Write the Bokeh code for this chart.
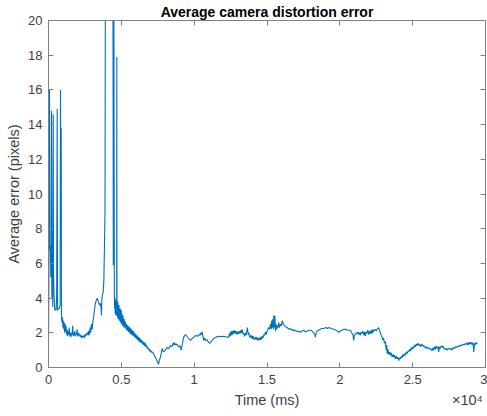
from bokeh.plotting import figure
from bokeh.models import FixedTicker, LinearAxis, Range1d
from bokeh.embed import file_html
from bokeh.resources import INLINE

title_text = "Average camera distortion error"
x_label = "Time (ms)"
y_label = "Average error (pixels)"
x_ticks = [0, 5000, 10000, 15000, 20000, 25000, 30000]
x_tick_labels = ["0", "0.5", "1", "1.5", "2", "2.5", "3"]
y_ticks = [0, 2, 4, 6, 8, 10, 12, 14, 16, 18, 20]
exponent_text = "\u00d710\u2074"

# early spiky segment
t_a = [0, 30, 69, 100, 130, 160, 190, 206, 230, 260, 290, 323, 345, 380, 420, 470,
       520, 560, 597, 620, 680, 740, 800, 824, 850, 872, 890, 910]
e_a = [1.3, 5.5, 16.0, 6.8, 7.0, 5.2, 6.2, 14.8, 4.0, 6.0, 3.5, 14.6, 5.4, 4.2, 3.4, 3.3,
       3.3, 4.2, 14.9, 3.3, 3.4, 3.4, 3.6, 16.0, 8.5, 13.8, 3.0, 2.7]

# plateau near 2 and bump before the large spikes
t_b = [930, 960, 990, 1020, 1050, 1080, 1110, 1140, 1170, 1200, 1230, 1260, 1300, 1340,
       1380, 1420, 1460, 1500, 1540, 1580, 1620, 1660, 1690, 1730, 1770, 1810, 1850, 1890,
       1930, 1970, 2000, 2040, 2080, 2120, 2160, 2200, 2240, 2280, 2330, 2370, 2420, 2460,
       2500, 2540, 2580, 2620, 2660, 2700, 2740, 2780, 2820, 2860, 2900, 2950, 3000, 3050,
       3100, 3150, 3200, 3250, 3300, 3350, 3400, 3450, 3500, 3560, 3600, 3640, 3660, 3700,
       3750, 3800, 3840, 3880, 3910]
e_b = [2.6, 2.9, 2.3, 2.7, 2.2, 2.6, 2.0, 2.5, 2.1, 2.4, 1.9, 2.2, 1.8, 2.1,
       1.9, 2.3, 1.8, 2.0, 1.75, 2.0, 1.9, 2.4, 1.8, 2.0, 1.85, 2.1, 1.8, 1.95,
       1.9, 2.2, 1.8, 1.9, 2.0, 1.8, 1.85, 1.75, 1.9, 1.7, 1.8, 1.75, 1.85, 1.7,
       1.9, 1.8, 1.95, 1.85, 2.0, 1.9, 2.1, 1.85, 2.0, 2.3, 2.0, 2.5, 2.2, 2.7,
       2.9, 3.3, 3.6, 3.8, 3.9, 4.0, 3.85, 3.7, 3.6, 3.7, 3.5, 3.0, 3.9, 4.2,
       4.3, 5.0, 6.9, 9.0, 25.0]

# large spikes and noisy decay to the minimum
t_c = [4420, 4450, 4480, 4520, 4540, 4560, 4580, 4600, 4620, 4640, 4660, 4680, 4690, 4700,
       4720, 4740, 4760, 4780, 4800, 4820, 4840, 4860, 4880, 4900, 4920, 4940, 4960, 4980,
       5000, 5020, 5040, 5060, 5080, 5100, 5120, 5140, 5160, 5180, 5200, 5220, 5240, 5260,
       5290, 5320, 5350, 5380, 5410, 5440, 5470, 5500, 5530, 5560, 5590, 5620, 5650, 5680,
       5710, 5740, 5770, 5800, 5830, 5860, 5890, 5920, 5950, 5980, 6010, 6040, 6070, 6100,
       6130, 6160, 6190, 6220, 6250, 6280, 6310, 6340, 6370, 6400, 6430, 6460, 6490, 6520,
       6560, 6600, 6640, 6680, 6720, 6760, 6800, 6840, 6880, 6920, 6960, 7000, 7050, 7100,
       7150, 7200, 7260, 7320, 7380, 7440, 7500, 7550, 7620, 7690]
e_c = [25.0, 5.9, 25.0, 4.3, 3.4, 4.0, 3.1, 3.9, 3.0, 3.7, 3.2, 3.5, 17.9, 3.0,
       3.7, 2.9, 3.8, 2.8, 3.5, 2.9, 3.6, 2.7, 3.3, 2.8, 3.4, 2.6, 3.2, 2.7,
       3.3, 2.5, 3.1, 2.6, 2.9, 2.4, 3.0, 2.4, 2.8, 2.3, 2.8, 2.3, 2.7, 2.3,
       2.6, 2.2, 2.5, 2.15, 2.45, 2.1, 2.4, 2.05, 2.35, 2.0, 2.3, 1.95, 2.25, 1.9,
       2.2, 1.85, 2.1, 1.85, 2.1, 1.8, 2.0, 1.75, 1.95, 1.7, 1.9, 1.65, 1.85, 1.6,
       1.8, 1.55, 1.75, 1.5, 1.7, 1.45, 1.65, 1.45, 1.6, 1.4, 1.55, 1.35, 1.5, 1.3,
       1.45, 1.25, 1.4, 1.2, 1.3, 1.1, 1.2, 1.05, 1.1, 0.95, 1.05, 0.9, 0.95, 0.85,
       0.9, 0.8, 0.7, 0.6, 0.5, 0.4, 0.3, 0.18, 0.45, 0.6]

# slow wander between 0.8e4 and 2.27e4
t_d = [7804, 7900, 8030, 8150, 8260, 8373, 8480, 8550, 8600, 8650, 8700, 8800, 8943, 9030,
       9108, 9200, 9286, 9403, 9500, 9600, 9746, 9850, 9973, 10100, 10200, 10316, 10400,
       10450, 10500, 10549, 10600, 10659, 10720, 10780, 10892, 10980, 11071, 11200, 11345,
       11500, 11688, 11850, 12032, 12200, 12375, 12420, 12460, 12500, 12540, 12580, 12620,
       12660, 12700, 12740, 12790, 12835, 12880, 12920, 12960, 13000, 13061, 13100, 13150,
       13200, 13250, 13295, 13340, 13400, 13450, 13521, 13560, 13600, 13650, 13679, 13720,
       13760, 13810, 13864, 13910, 13950, 14000, 14050, 14120, 14207, 14260, 14300, 14380,
       14434, 14500, 14550, 14600, 14667, 14720, 14780, 14840, 14894, 14950, 15000, 15060,
       15120, 15180, 15237, 15280, 15320, 15360, 15400, 15440, 15463, 15500, 15540, 15580,
       15620, 15660, 15697, 15740, 15800, 15840, 15923, 15980, 16050, 16109, 16180, 16266,
       16400, 16500, 16609, 16700, 16780, 16870, 16953, 17100, 17200, 17296, 17400, 17523,
       17640, 17756, 17900, 18030, 18200, 18280, 18325, 18370, 18442, 18550, 18650, 18780,
       18895, 19050, 19150, 19238, 19400, 19581, 19750, 19925, 20050, 20158, 20280, 20384,
       20550, 20727, 20850, 20900, 20954, 21000, 21050, 21120, 21187, 21250, 21300, 21350,
       21400, 21460, 21531, 21580, 21650, 21700, 21757, 21800, 21850, 21920, 21984, 22040,
       22100, 22160, 22217, 22260, 22300, 22360, 22443, 22500, 22560, 22670]
e_d = [1.1, 0.9, 1.0, 1.15, 1.1, 1.27, 1.2, 1.4, 1.3, 1.45, 1.3, 1.35, 1.2, 1.25,
       1.0, 1.4, 1.75, 1.9, 1.8, 1.7, 1.56, 1.65, 1.75, 1.85, 1.8, 1.9, 1.85,
       2.0, 1.9, 2.05, 1.8, 1.56, 1.7, 1.55, 1.6, 1.45, 1.4, 1.55, 1.67,
       1.75, 1.8, 1.78, 1.8, 1.76, 1.75, 1.95, 1.8, 2.05, 1.85, 2.1, 1.9,
       2.1, 1.95, 2.15, 1.95, 2.1, 1.95, 2.1, 1.9, 2.05, 1.95, 2.1, 1.95,
       2.15, 2.0, 2.2, 1.95, 2.0, 1.8, 2.0, 1.85, 2.0, 2.3, 2.1, 1.9,
       2.0, 1.75, 1.85, 1.7, 1.85, 1.65, 1.8, 1.6, 1.75, 1.6, 1.75, 1.55,
       1.7, 1.6, 1.75, 1.6, 1.8, 1.7, 1.9, 1.85, 2.05, 1.9, 2.1, 2.2,
       2.3, 2.2, 2.5, 2.2, 2.7, 2.3, 2.8, 2.2, 3.0, 2.3, 3.0, 2.1,
       2.5, 2.2, 2.4, 2.3, 2.6, 2.3, 2.5, 2.4, 2.7, 2.5, 2.45, 2.35,
       2.3, 2.2, 2.25, 2.15, 2.2, 2.1, 2.15, 2.05, 2.1, 2.03, 2.1, 2.15,
       2.05, 2.1, 2.15, 2.15, 2.0, 1.9, 1.75, 2.0, 2.1, 2.15, 2.2, 2.25,
       2.25, 2.3, 2.25, 2.3, 2.25, 2.2, 2.15, 2.03, 2.1, 2.15, 2.2, 2.2,
       2.15, 2.15, 1.95, 1.9, 1.56, 1.85, 1.9, 2.0, 1.95, 2.05, 1.9, 2.0,
       1.85, 2.05, 1.95, 2.1, 1.85, 2.05, 1.8, 2.05, 1.95, 2.15, 1.9, 2.1,
       1.95, 2.15, 1.95, 2.2, 2.05, 2.15, 2.2, 2.1, 2.2, 2.3]

# drop, second minimum and the final stretch
t_e = [22720, 22780, 22840, 22903, 22950, 23000, 23060, 23130, 23180, 23220, 23246, 23300,
       23356, 23420, 23470, 23530, 23590, 23650, 23700, 23760, 23816, 23870, 23930, 23990,
       24043, 24100, 24160, 24220, 24276, 24330, 24390, 24450, 24503, 24560, 24620, 24680,
       24729, 24790, 24850, 24900, 24962, 25020, 25080, 25130, 25189, 25250, 25300, 25360,
       25415, 25470, 25532, 25600, 25650, 25700, 25759, 25820, 25880, 25940, 25992, 26070,
       26150, 26240, 26335, 26400, 26450, 26500, 26560, 26620, 26678, 26740, 26788, 26840,
       26900, 26960, 27021, 27080, 27140, 27200, 27280, 27364, 27440, 27540, 27620, 27708,
       27780, 27880, 27960, 28051, 28120, 28200, 28300, 28394, 28470, 28550, 28640, 28737,
       28800, 28850, 28900, 28964, 29020, 29080, 29140, 29190, 29250, 29300, 29360, 29424]
e_e = [2.15, 2.0, 1.85, 1.75, 1.6, 1.7, 1.4, 1.5, 1.0, 1.3, 0.79, 1.05,
       0.75, 0.9, 0.7, 0.85, 0.6, 0.75, 0.6, 0.7, 0.5, 0.65, 0.5, 0.6,
       0.4, 0.55, 0.5, 0.65, 0.55, 0.75, 0.65, 0.8, 0.7, 0.9, 0.8, 0.95,
       0.9, 1.05, 0.95, 1.15, 1.05, 1.2, 1.1, 1.3, 1.2, 1.35, 1.25, 1.4,
       1.3, 1.35, 1.2, 1.35, 1.25, 1.3, 1.2, 1.25, 1.1, 1.2, 1.1, 1.15,
       1.05, 1.1, 0.95, 1.15, 1.0, 1.2, 1.05, 1.25, 1.1, 1.2, 0.9, 1.2,
       1.1, 1.25, 1.15, 1.25, 1.1, 1.05, 1.1, 1.0, 1.1, 1.05, 1.1, 1.0,
       1.15, 1.1, 1.2, 1.15, 1.25, 1.2, 1.3, 1.25, 1.35, 1.3, 1.4, 1.3,
       1.45, 1.3, 1.45, 1.35, 1.45, 1.3, 1.45, 0.9, 1.4, 1.3, 1.45, 1.35]

times = t_a + t_b + t_c + t_d + t_e
errors = e_a + e_b + e_c + e_d + e_e

# positions (in ms) where the x-axis caption and the exponent note are centred
caption_positions = [15000, 28760]

FONT = "Liberation Sans"
TEXT_COLOR = "#404040"
AXIS_COLOR = "#808080"

p = figure(width=487, height=416, output_backend="svg", toolbar_location=None,
           x_range=Range1d(0, 30000), y_range=Range1d(0, 20),
           min_border_left=48, min_border_right=2, min_border_top=20, min_border_bottom=49)
p.background_fill_color = "white"
p.border_fill_color = "white"
p.outline_line_color = AXIS_COLOR
p.outline_line_width = 1
p.grid.visible = False

p.line(times, errors, line_color="#0072BD", line_width=1.1)

p.title.text = title_text
p.title.align = "center"
p.title.text_font = FONT
p.title.text_font_size = "14px"
p.title.text_font_style = "bold"
p.title.text_color = "#000000"
p.title.standoff = 2

xa = p.xaxis[0]
xa.ticker = FixedTicker(ticks=x_ticks)
xa.major_label_overrides = {t: l for t, l in zip(x_ticks, x_tick_labels)}
ya = p.yaxis[0]
ya.ticker = FixedTicker(ticks=y_ticks)

for ax in (xa, ya):
    ax.axis_line_color = AXIS_COLOR
    ax.major_tick_line_color = AXIS_COLOR
    ax.major_tick_in = 5
    ax.major_tick_out = 0
    ax.minor_tick_line_color = None
    ax.major_label_text_font = FONT
    ax.major_label_text_font_size = "13px"
    ax.major_label_text_color = TEXT_COLOR
    ax.axis_label_text_font = FONT
    ax.axis_label_text_font_size = "14.5px"
    ax.axis_label_text_font_style = "normal"
    ax.axis_label_text_color = TEXT_COLOR

xa.major_label_standoff = 7
ya.axis_label = y_label
ya.major_label_standoff = 6
ya.axis_label_standoff = 3

# caption row under the x axis: "Time (ms)" centred, exponent note at the right
caption = LinearAxis(ticker=FixedTicker(ticks=caption_positions))
caption.major_label_overrides = {caption_positions[0]: x_label,
                                 caption_positions[1]: exponent_text}
caption.axis_line_color = None
caption.major_tick_line_color = None
caption.minor_tick_line_color = None
caption.major_tick_in = 0
caption.major_tick_out = 0
caption.major_label_standoff = 5
caption.major_label_text_font = FONT
caption.major_label_text_font_size = "14.5px"
caption.major_label_text_color = TEXT_COLOR
p.add_layout(caption, "below")

top = LinearAxis(ticker=FixedTicker(ticks=x_ticks))
top.major_label_overrides = {t: "" for t in x_ticks}
right = LinearAxis(ticker=FixedTicker(ticks=y_ticks))
right.major_label_overrides = {t: "" for t in y_ticks}
for ax in (top, right):
    ax.axis_line_color = AXIS_COLOR
    ax.major_tick_line_color = AXIS_COLOR
    ax.major_tick_in = 5
    ax.major_tick_out = 0
    ax.minor_tick_line_color = None
    ax.major_label_standoff = 0
p.add_layout(top, "above")
p.add_layout(right, "right")

open("out.html", "w").write(file_html(p, INLINE))
